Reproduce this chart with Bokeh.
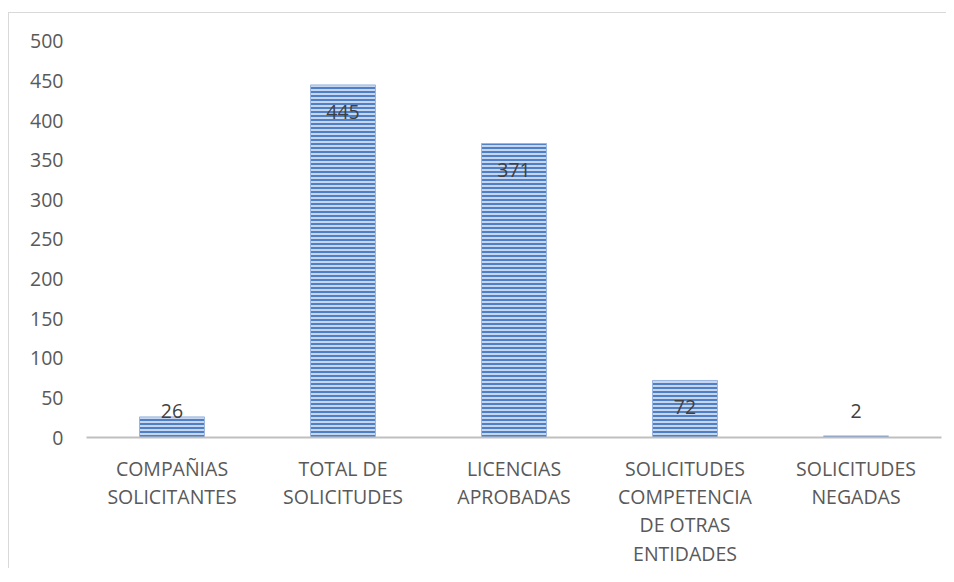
from bokeh.plotting import figure
from bokeh.models import ColumnDataSource, FixedTicker, Range1d, FactorRange
from bokeh.core.properties import value
from bokeh.embed import file_html
from bokeh.resources import INLINE

categories = ["COMPAÑIAS\nSOLICITANTES", "TOTAL DE\nSOLICITUDES", "LICENCIAS\nAPROBADAS",
              "SOLICITUDES\nCOMPETENCIA\nDE OTRAS\nENTIDADES", "SOLICITUDES\nNEGADAS"]
values = [26, 445, 371, 72, 2]
y_ticks = [0, 50, 100, 150, 200, 250, 300, 350, 400, 450, 500]

FONT = "Open Sans"
FS = "19.5px"
label_y = [max(v - 34, 33) for v in values]
src = ColumnDataSource(dict(cat=categories, val=values, ly=label_y, txt=[str(v) for v in values]))

p = figure(x_range=FactorRange(*categories, range_padding=0), y_range=Range1d(0, 520),
           width=938, height=556, output_backend="svg", toolbar_location=None,
           min_border_left=77, min_border_right=6, min_border_top=12, min_border_bottom=10)
p.styles = {"border-left": "1px solid #d9d9d9", "border-top": "1px solid #d9d9d9",
            "margin": "12px 0px 0px 8px"}
p.outline_line_color = None
p.xgrid.grid_line_color = None
p.ygrid.grid_line_color = None
p.background_fill_color = "white"
p.border_fill_color = "white"

p.vbar(x="cat", top="val", width=0.38, source=src, fill_color="#c6d6ee",
       line_color="#9ab6e0", line_width=1, hatch_pattern="horizontal_line",
       hatch_color="#4f7fc5", hatch_scale=4, hatch_weight=2)

p.text(x="cat", y="ly", text="txt", source=src, text_align="center", text_baseline="middle",
       text_font=value(FONT), text_font_size=FS, text_color="#404040")

p.yaxis.ticker = FixedTicker(ticks=y_ticks)
p.yaxis.axis_line_color = None
p.yaxis.major_tick_line_color = None
p.yaxis.minor_tick_line_color = None
p.yaxis.major_tick_out = 0
p.yaxis.major_tick_in = 0
p.yaxis.minor_tick_out = 0
p.yaxis.major_label_standoff = 23
p.yaxis.major_label_text_font = FONT
p.yaxis.major_label_text_font_size = FS
p.yaxis.major_label_text_color = "#595959"

p.xaxis.axis_line_color = "#bfbfbf"
p.xaxis.axis_line_width = 2
p.xaxis.major_tick_line_color = None
p.xaxis.minor_tick_line_color = None
p.xaxis.major_tick_out = 0
p.xaxis.major_tick_in = 0
p.xaxis.major_label_standoff = 17
p.xaxis.major_label_text_font = FONT
p.xaxis.major_label_text_font_size = FS
p.xaxis.major_label_text_color = "#595959"
p.xaxis.major_label_text_line_height = 1.05
p.xaxis.major_label_orientation = "horizontal"

open("out.html", "w").write(file_html(p, INLINE))
